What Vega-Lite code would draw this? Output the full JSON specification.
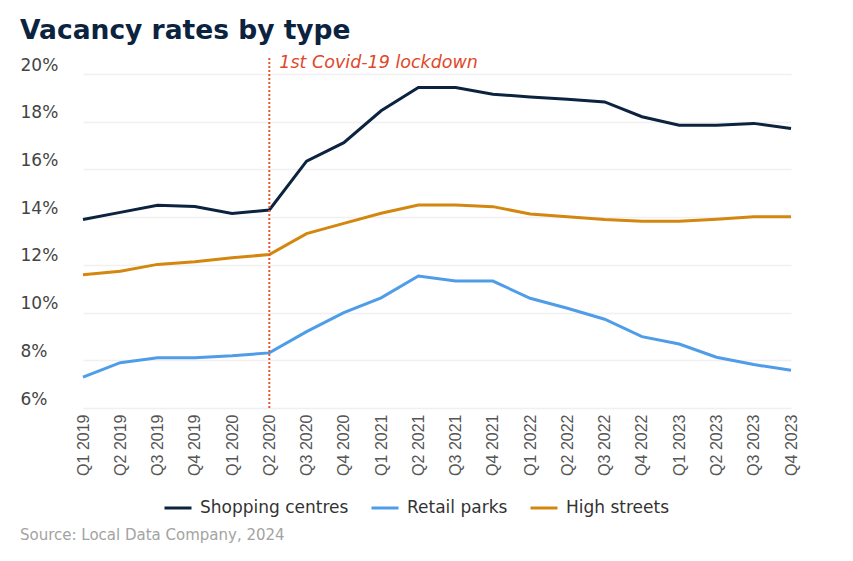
{
  "$schema": "https://vega.github.io/schema/vega-lite/v6.json",
  "background": "white",
  "padding": {"left": 17, "top": 17, "right": 20, "bottom": 10},
  "title": {"text": "Vacancy rates by type", "anchor": "start", "dx": 3, "font": "DejaVu Sans", "fontSize": 26.5, "fontWeight": "bold", "color": "#0c2340", "offset": 10},
  "datasets": {
    "rates": [
      {"quarter": "Q1 2019", "type": "Shopping centres", "rate": 13.9},
      {"quarter": "Q2 2019", "type": "Shopping centres", "rate": 14.2},
      {"quarter": "Q3 2019", "type": "Shopping centres", "rate": 14.5},
      {"quarter": "Q4 2019", "type": "Shopping centres", "rate": 14.45},
      {"quarter": "Q1 2020", "type": "Shopping centres", "rate": 14.15},
      {"quarter": "Q2 2020", "type": "Shopping centres", "rate": 14.3},
      {"quarter": "Q3 2020", "type": "Shopping centres", "rate": 16.35},
      {"quarter": "Q4 2020", "type": "Shopping centres", "rate": 17.12},
      {"quarter": "Q1 2021", "type": "Shopping centres", "rate": 18.46},
      {"quarter": "Q2 2021", "type": "Shopping centres", "rate": 19.43},
      {"quarter": "Q3 2021", "type": "Shopping centres", "rate": 19.43},
      {"quarter": "Q4 2021", "type": "Shopping centres", "rate": 19.15},
      {"quarter": "Q1 2022", "type": "Shopping centres", "rate": 19.04},
      {"quarter": "Q2 2022", "type": "Shopping centres", "rate": 18.94},
      {"quarter": "Q3 2022", "type": "Shopping centres", "rate": 18.83},
      {"quarter": "Q4 2022", "type": "Shopping centres", "rate": 18.21},
      {"quarter": "Q1 2023", "type": "Shopping centres", "rate": 17.85},
      {"quarter": "Q2 2023", "type": "Shopping centres", "rate": 17.85},
      {"quarter": "Q3 2023", "type": "Shopping centres", "rate": 17.93},
      {"quarter": "Q4 2023", "type": "Shopping centres", "rate": 17.72},
      {"quarter": "Q1 2019", "type": "Retail parks", "rate": 7.29},
      {"quarter": "Q2 2019", "type": "Retail parks", "rate": 7.9},
      {"quarter": "Q3 2019", "type": "Retail parks", "rate": 8.11},
      {"quarter": "Q4 2019", "type": "Retail parks", "rate": 8.11},
      {"quarter": "Q1 2020", "type": "Retail parks", "rate": 8.19},
      {"quarter": "Q2 2020", "type": "Retail parks", "rate": 8.31},
      {"quarter": "Q3 2020", "type": "Retail parks", "rate": 9.2},
      {"quarter": "Q4 2020", "type": "Retail parks", "rate": 10.0},
      {"quarter": "Q1 2021", "type": "Retail parks", "rate": 10.62},
      {"quarter": "Q2 2021", "type": "Retail parks", "rate": 11.53},
      {"quarter": "Q3 2021", "type": "Retail parks", "rate": 11.32},
      {"quarter": "Q4 2021", "type": "Retail parks", "rate": 11.32},
      {"quarter": "Q1 2022", "type": "Retail parks", "rate": 10.6},
      {"quarter": "Q2 2022", "type": "Retail parks", "rate": 10.18},
      {"quarter": "Q3 2022", "type": "Retail parks", "rate": 9.72},
      {"quarter": "Q4 2022", "type": "Retail parks", "rate": 8.99},
      {"quarter": "Q1 2023", "type": "Retail parks", "rate": 8.68},
      {"quarter": "Q2 2023", "type": "Retail parks", "rate": 8.13},
      {"quarter": "Q3 2023", "type": "Retail parks", "rate": 7.82},
      {"quarter": "Q4 2023", "type": "Retail parks", "rate": 7.58},
      {"quarter": "Q1 2019", "type": "High streets", "rate": 11.59},
      {"quarter": "Q2 2019", "type": "High streets", "rate": 11.73},
      {"quarter": "Q3 2019", "type": "High streets", "rate": 12.02},
      {"quarter": "Q4 2019", "type": "High streets", "rate": 12.13},
      {"quarter": "Q1 2020", "type": "High streets", "rate": 12.3},
      {"quarter": "Q2 2020", "type": "High streets", "rate": 12.43},
      {"quarter": "Q3 2020", "type": "High streets", "rate": 13.31},
      {"quarter": "Q4 2020", "type": "High streets", "rate": 13.74},
      {"quarter": "Q1 2021", "type": "High streets", "rate": 14.16},
      {"quarter": "Q2 2021", "type": "High streets", "rate": 14.51},
      {"quarter": "Q3 2021", "type": "High streets", "rate": 14.51},
      {"quarter": "Q4 2021", "type": "High streets", "rate": 14.44},
      {"quarter": "Q1 2022", "type": "High streets", "rate": 14.13},
      {"quarter": "Q2 2022", "type": "High streets", "rate": 14.02},
      {"quarter": "Q3 2022", "type": "High streets", "rate": 13.9},
      {"quarter": "Q4 2022", "type": "High streets", "rate": 13.83},
      {"quarter": "Q1 2023", "type": "High streets", "rate": 13.83},
      {"quarter": "Q2 2023", "type": "High streets", "rate": 13.91},
      {"quarter": "Q3 2023", "type": "High streets", "rate": 14.02},
      {"quarter": "Q4 2023", "type": "High streets", "rate": 14.02}
    ],
    "events": [
      {"quarter": "Q2 2020", "label": "1st Covid-19 lockdown", "lo": 6, "hi": 20.7}
    ]
  },
  "resolve": {"scale": {"color": "independent"}, "legend": {"color": "independent"}},
  "vconcat": [
    {
      "width": 793,
      "height": 334,
      "title": {"text": "Source: Local Data Company, 2024", "orient": "bottom", "anchor": "start", "dx": 3, "font": "DejaVu Sans", "fontSize": 15, "fontWeight": "normal", "color": "#a3a3a3", "offset": 12},
      "layer": [
        {
          "data": {"name": "rates"},
          "mark": {"type": "line", "strokeWidth": 3},
          "encoding": {
            "x": {"field": "quarter", "type": "nominal", "title": null,
                  "scale": {"type": "point", "padding": 0, "domain": ["Q1 2019","Q2 2019","Q3 2019","Q4 2019","Q1 2020","Q2 2020","Q3 2020","Q4 2020","Q1 2021","Q2 2021","Q3 2021","Q4 2021","Q1 2022","Q2 2022","Q3 2022","Q4 2022","Q1 2023","Q2 2023","Q3 2023","Q4 2023"], "range": [66, 774]}},
            "y": {"field": "rate", "type": "quantitative", "title": null,
                  "scale": {"domain": [6, 20], "nice": false, "zero": false},
                  "axis": {"values": [6, 8, 10, 12, 14, 16, 18, 20], "labelExpr": "datum.value + '%'"}},
            "color": {"field": "type", "type": "nominal", "title": null,
                      "scale": {"domain": ["Shopping centres", "Retail parks", "High streets"], "range": ["#0c2340", "#4f9de8", "#d4870f"]},
                      "legend": {"orient": "none", "direction": "horizontal", "legendX": 146, "legendY": 419}}
          }
        },
        {
          "data": {"name": "events"},
          "mark": {"type": "rule", "color": "#e4572e", "strokeDash": [2, 2], "strokeWidth": 2},
          "encoding": {
            "x": {"field": "quarter", "type": "nominal"},
            "y": {"field": "lo", "type": "quantitative", "scale": {"domain": [6, 20], "nice": false, "zero": false}},
            "y2": {"field": "hi"}
          }
        },
        {
          "data": {"name": "events"},
          "mark": {"type": "text", "align": "left", "baseline": "top", "dx": 10, "dy": -3, "font": "DejaVu Sans", "fontStyle": "italic", "fontSize": 17.5, "color": "#e0482a"},
          "encoding": {
            "x": {"field": "quarter", "type": "nominal"},
            "y": {"field": "hi", "type": "quantitative", "scale": {"domain": [6, 20], "nice": false, "zero": false}},
            "text": {"field": "label"}
          }
        }
      ]
    }
  ],
  "config": {
    "view": {"stroke": null},
    "font": "DejaVu Sans",
    "axis": {"domain": false, "ticks": false, "title": null},
    "axisX": {"grid": false, "labelAngle": -90, "labelFont": "Liberation Sans", "labelFontSize": 16, "labelColor": "#555555", "labelPadding": 6},
    "axisY": {"grid": true, "gridColor": "#f0f0f0", "gridWidth": 1.5, "labelAlign": "left", "labelBaseline": "bottom", "labelPadding": -3, "labelFont": "DejaVu Sans", "labelFontSize": 17, "labelColor": "#444444"},
    "legend": {"title": null, "symbolType": "stroke", "symbolStrokeWidth": 3, "symbolSize": 729, "labelFont": "DejaVu Sans", "labelFontSize": 17, "labelColor": "#333333", "columnPadding": 16, "labelOffset": 7}
  }
}
